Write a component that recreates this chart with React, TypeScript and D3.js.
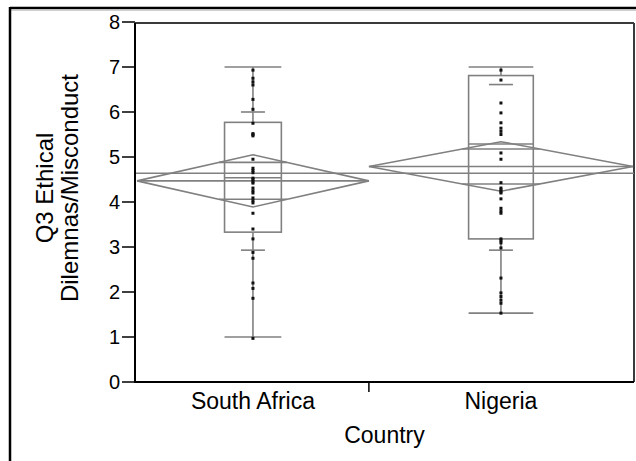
import React from 'react';
import * as d3 from 'd3';

// groups (x width proportional to group size, JMP style)
const countries = ['South Africa', 'Nigeria'];
const groupN = [36, 41];

// quantile box summaries
const mins = [1.0, 1.53];
const p10 = [2.93, 2.93];
const q1 = [3.33, 3.18];
const medians = [4.54, 5.29];
const q3 = [5.77, 6.81];
const p90 = [6.0, 6.61];
const maxs = [7.0, 7.0];

// means diamonds
const means = [4.47, 4.79];
const ciHalf = [0.58, 0.55];
const grandMean = 4.64;

// raw points
const southAfricaPts = [
  6.93, 6.75, 6.67, 6.6, 6.28, 6.06, 5.75, 5.52, 5.5, 5.47, 4.95, 4.75, 4.7, 4.65,
  4.53, 4.5, 4.45, 4.42, 4.31, 4.25, 4.2, 4.09, 4.03, 3.98, 3.75, 3.4, 3.18, 2.88,
  2.75, 2.2, 2.08, 1.86, 0.97,
];
const nigeriaPts = [
  6.93, 6.71, 6.2, 5.98, 5.76, 5.64, 5.57, 5.5, 5.09, 4.95, 4.43, 4.31, 4.27, 4.23,
  4.2, 4.07, 3.86, 3.8, 3.75, 3.18, 3.14, 3.09, 2.98, 2.31, 1.98, 1.9, 1.82, 1.75, 1.53,
];
const points = [southAfricaPts, nigeriaPts];

const yTicks = [0, 1, 2, 3, 4, 5, 6, 7, 8];

const W = 636;
const H = 461;
const plotLeft = 135;
const plotRight = 634;
const plotTop = 22;
const plotBottom = 382;
const lineColor = '#808080';
const font = '"Liberation Sans", Arial, sans-serif';

export default function App() {
  const total = d3.sum(groupN);
  const cum = d3.cumsum([0, ...groupN]);
  const x = d3.scaleLinear().domain([0, total]).range([137, 633]);
  const y = d3.scaleLinear().domain([0, 8]).range([plotBottom, plotTop]);

  const groups = countries.map((c, i) => {
    const x0 = x(cum[i]);
    const x1 = x(cum[i + 1]);
    return { c, i, x0, x1, cx: (x0 + x1) / 2, w: x1 - x0 };
  });

  return (
    <svg width={W} height={H} style={{ position: 'absolute', left: 0, top: 0, background: '#fff' }}>
      {/* outer frame */}
      <line x1={10} x2={W} y1={8} y2={8} stroke="#000" strokeWidth={2.5} />
      <line x1={10} x2={W} y1={10.5} y2={10.5} stroke="#d0d0d0" strokeWidth={1} />
      <line x1={10} x2={10} y1={7} y2={H} stroke="#000" strokeWidth={2.5} />

      {/* plot frame top/right */}
      <line x1={plotLeft} x2={plotRight} y1={23} y2={23} stroke="#3a3a3a" strokeWidth={2} />
      <line x1={plotRight} x2={plotRight} y1={23} y2={plotBottom} stroke="#3a3a3a" strokeWidth={2} />

      {/* grand mean */}
      <line x1={plotLeft} x2={plotRight} y1={y(grandMean)} y2={y(grandMean)} stroke={lineColor} strokeWidth={1.6} />

      {groups.map((g) => {
        const i = g.i;
        const bw = g.w * 0.245;
        const sw = 24;
        const m = y(means[i]);
        const top = y(means[i] + ciHalf[i]);
        const bot = y(means[i] - ciHalf[i]);
        const ov = ciHalf[i] / Math.SQRT2;
        const ovHalf = (g.w / 2) * (1 - 1 / Math.SQRT2);
        const diamond = d3.line()([
          [g.x0, m],
          [g.cx, top],
          [g.x1, m],
          [g.cx, bot],
          [g.x0, m],
        ]);
        return (
          <g key={g.c} fill="none" stroke={lineColor} strokeWidth={1.6}>
            {/* whiskers */}
            <line x1={g.cx} x2={g.cx} y1={y(maxs[i])} y2={y(q3[i])} />
            <line x1={g.cx} x2={g.cx} y1={y(q1[i])} y2={y(mins[i])} />
            <line x1={g.cx - bw / 2} x2={g.cx + bw / 2} y1={y(maxs[i])} y2={y(maxs[i])} />
            <line x1={g.cx - bw / 2} x2={g.cx + bw / 2} y1={y(mins[i])} y2={y(mins[i])} />
            <line x1={g.cx - sw / 2} x2={g.cx + sw / 2} y1={y(p90[i])} y2={y(p90[i])} />
            <line x1={g.cx - sw / 2} x2={g.cx + sw / 2} y1={y(p10[i])} y2={y(p10[i])} />
            {/* box */}
            <rect x={g.cx - bw / 2} y={y(q3[i])} width={bw} height={y(q1[i]) - y(q3[i])} />
            <line x1={g.cx - bw / 2} x2={g.cx + bw / 2} y1={y(medians[i])} y2={y(medians[i])} />
            {/* diamond */}
            <path d={diamond ?? ''} />
            <line x1={g.x0} x2={g.x1} y1={m} y2={m} />
            <line x1={g.cx - ovHalf} x2={g.cx + ovHalf} y1={y(means[i] + ov)} y2={y(means[i] + ov)} />
            <line x1={g.cx - ovHalf} x2={g.cx + ovHalf} y1={y(means[i] - ov)} y2={y(means[i] - ov)} />
            {/* points */}
            {points[i].map((v, k) => (
              <rect key={k} x={g.cx - 1.5} y={y(v) - 1.5} width={3} height={3} fill="#111" stroke="none" />
            ))}
          </g>
        );
      })}

      {/* y axis */}
      <line x1={plotLeft} x2={plotLeft} y1={23} y2={plotBottom + 1} stroke="#000" strokeWidth={2} />
      {yTicks.map((t) => (
        <g key={t}>
          <line x1={plotLeft - 13} x2={plotLeft} y1={y(t)} y2={y(t)} stroke="#000" strokeWidth={1.5} />
          <text x={plotLeft - 15} y={y(t)} dy="0.36em" textAnchor="end" fontFamily={font} fontSize={20} fill="#000">
            {t}
          </text>
        </g>
      ))}

      {/* x axis */}
      <line x1={plotLeft} x2={plotRight} y1={plotBottom} y2={plotBottom} stroke="#000" strokeWidth={2} />
      {groups.slice(1).map((g) => (
        <line key={g.c} x1={g.x0} x2={g.x0} y1={plotBottom} y2={plotBottom + 10} stroke="#000" strokeWidth={1.5} />
      ))}
      {groups.map((g) => (
        <text key={g.c} x={g.cx} y={409} textAnchor="middle" fontFamily={font} fontSize={23} fill="#000">
          {g.c}
        </text>
      ))}
      <text x={(plotLeft + plotRight) / 2} y={443} textAnchor="middle" fontFamily={font} fontSize={23} fill="#000">
        Country
      </text>

      {/* y title */}
      <g transform="translate(0, 188)">
        <text transform="translate(53,0) rotate(-90)" textAnchor="middle" fontFamily={font} fontSize={24} fill="#000">
          Q3 Ethical
        </text>
        <text transform="translate(78,0) rotate(-90)" textAnchor="middle" fontFamily={font} fontSize={24} fill="#000">
          Dilemnas/Misconduct
        </text>
      </g>
    </svg>
  );
}
